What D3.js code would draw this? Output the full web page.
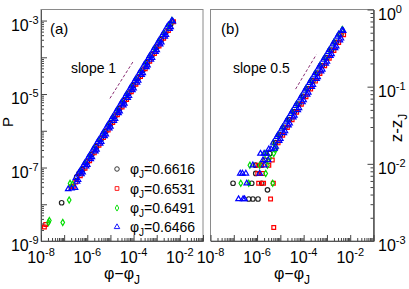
<!DOCTYPE html>
<html>
<head>
<meta charset="utf-8">
<script src="https://cdn.jsdelivr.net/npm/d3@7"></script>
<style>
  body { margin: 0; background: #fff; }
  text { font-family: "Liberation Sans", Arial, sans-serif; fill: #000; }
</style>
</head>
<body>
<svg id="chart"></svg>
<script>
// ---- data ----
var seriesLabels = ["0.6616", "0.6531", "0.6491", "0.6466"];
var xTickExp = ["-8", "-6", "-4", "-2"];
var pTickExp = ["-9", "-7", "-5", "-3"];
var zTickExp = ["-3", "-2", "-1", "0"];

// panel (a): [phi - phiJ, P]
var aBlack = [[7.8e-8, 1.1e-8], [3.5e-7, 5.6e-8], [4.4e-7, 6.9e-8], [6.3e-7, 8.8e-8], [1e-6, 1.42e-7],
  [1.58e-6, 2.29e-7], [2.5e-6, 3.68e-7], [4e-6, 6.0e-7], [6.3e-6, 9.6e-7], [1e-5, 1.56e-6], [1.58e-5, 2.51e-6],
  [2.5e-5, 4.05e-6], [4e-5, 6.6e-6], [6.3e-5, 1.06e-5], [1e-4, 1.71e-5], [1.58e-4, 2.75e-5], [2.5e-4, 4.45e-5],
  [4e-4, 7.24e-5], [6.3e-4, 1.16e-4], [1e-3, 1.88e-4], [1.58e-3, 3.02e-4], [2.5e-3, 4.88e-4], [4e-3, 7.9e-4]];
var aRed = [[1.4e-8, 2.4e-9], [1.6e-8, 2.8e-9], [2.0e-7, 3.0e-8], [2.5e-7, 3.1e-8], [3.2e-7, 4.0e-8],
  [5e-7, 6.0e-8], [8e-7, 9.6e-8], [1.26e-6, 1.53e-7], [2e-6, 2.5e-7], [3.2e-6, 4.05e-7], [5e-6, 6.5e-7],
  [8e-6, 1.05e-6], [1.26e-5, 1.69e-6], [2e-5, 2.74e-6], [3.2e-5, 4.46e-6], [5e-5, 7.1e-6], [8e-5, 1.16e-5],
  [1.26e-4, 1.85e-5], [2e-4, 3.0e-5], [3.2e-4, 4.87e-5], [5e-4, 7.8e-5], [8e-4, 1.27e-4], [1.26e-3, 2.03e-4],
  [2e-3, 3.28e-4], [3.2e-3, 5.35e-4], [5.3e-3, 9.3e-4]];
var aGreen = [[2.1e-8, 3.2e-9], [2.3e-8, 3.6e-9], [8.7e-8, 3.2e-9], [1.65e-7, 1.3e-8], [1.8e-7, 3.7e-8],
  [2.3e-7, 3.5e-8], [5e-7, 8.0e-8], [8e-7, 1.3e-7], [1.26e-6, 2.07e-7], [2e-6, 3.36e-7], [3.2e-6, 5.5e-7],
  [5e-6, 8.7e-7], [8e-6, 1.43e-6], [1.26e-5, 2.29e-6], [2e-5, 3.7e-6], [3.2e-5, 6.0e-6], [5e-5, 9.6e-6],
  [8e-5, 1.56e-5], [1.26e-4, 2.5e-5], [2e-4, 4.05e-5], [3.2e-4, 6.6e-5], [5e-4, 1.05e-4], [8e-4, 1.71e-4],
  [1.26e-3, 2.75e-4], [2e-3, 4.4e-4], [3.2e-3, 7.0e-4], [4.6e-3, 1.0e-3]];
var aBlue = [[1.5e-7, 2.6e-8], [2.1e-7, 2.7e-8], [2.96e-7, 2.8e-8],
  [3.2e-7, 5.2e-8], [4e-7, 4.6e-8], [5e-7, 8.3e-8], [6.3e-7, 7.4e-8], [8e-7, 1.34e-7], [1e-6, 1.19e-7],
  [1.26e-6, 2.14e-7], [1.58e-6, 1.92e-7], [2e-6, 3.47e-7], [2.5e-6, 3.09e-7], [3.2e-6, 5.68e-7], [4e-6, 5.04e-7],
  [5e-6, 9.04e-7], [6.3e-6, 8.06e-7], [8e-6, 1.48e-6], [1e-5, 1.31e-6], [1.26e-5, 2.37e-6], [1.58e-5, 2.11e-6],
  [2e-5, 3.83e-6], [2.5e-5, 3.4e-6], [3.2e-5, 6.25e-6], [4e-5, 5.54e-6], [5e-5, 9.94e-6], [6.3e-5, 8.9e-6],
  [8e-5, 1.62e-5], [1e-4, 1.44e-5], [1.26e-4, 2.59e-5], [1.58e-4, 2.31e-5], [2e-4, 4.19e-5], [2.5e-4, 3.74e-5],
  [3.2e-4, 6.82e-5], [4e-4, 6.08e-5], [5e-4, 1.09e-4], [6.3e-4, 9.74e-5], [8e-4, 1.77e-4], [1e-3, 1.58e-4],
  [1.26e-3, 2.84e-4], [1.58e-3, 2.54e-4], [2e-3, 4.59e-4], [2.5e-3, 4.1e-4], [3.2e-3, 7.5e-4], [4e-3, 6.64e-4],
  [5e-3, 9.5e-4],
  [3.6e-7, 4.12e-8], [4.5e-7, 7.38e-8], [5.6e-7, 6.6e-8], [7.1e-7, 1.19e-7], [8.9e-7, 1.07e-7], [1.12e-6, 1.9e-7],
  [1.41e-6, 1.71e-7], [1.78e-6, 3.08e-7], [2.24e-6, 2.76e-7], [2.8e-6, 4.99e-7], [3.6e-6, 4.49e-7],
  [4.5e-6, 8.03e-7], [5.6e-6, 7.17e-7], [7.1e-6, 1.3e-6], [8.9e-6, 1.17e-6], [1.12e-5, 2.09e-6],
  [1.41e-5, 1.88e-6], [1.78e-5, 3.38e-6], [2.24e-5, 3.03e-6], [2.8e-5, 5.49e-6], [3.6e-5, 4.95e-6],
  [4.5e-5, 8.83e-6], [5.6e-5, 7.9e-6], [7.1e-5, 1.43e-5], [8.9e-5, 1.28e-5], [1.12e-4, 2.3e-5],
  [1.41e-4, 2.06e-5], [1.78e-4, 3.7e-5], [2.24e-4, 3.33e-5], [2.8e-4, 6.01e-5], [3.6e-4, 5.41e-5],
  [4.5e-4, 9.69e-5], [5.6e-4, 8.65e-5], [7.1e-4, 1.56e-4], [8.9e-4, 1.4e-4], [1.12e-3, 2.52e-4],
  [1.41e-3, 2.26e-4], [1.78e-3, 4.06e-4], [2.24e-3, 3.65e-4], [2.8e-3, 6.6e-4], [3.6e-3, 5.92e-4],
  [4.5e-3, 1.0e-3]];

// panel (b): [phi - phiJ, z - zJ]
var bBlack = [[9.3e-8, 0.0056], [5.9e-7, 0.0056], [1.58e-6, 0.0056], [2.8e-6, 0.0046], [4.4e-7, 0.0035],
  [6.6e-7, 0.0035], [1.1e-6, 0.0035], [8.8e-7, 0.0075], [8.5e-7, 0.0096], [1.5e-6, 0.0096], [2.2e-6, 0.0112],
  [3.5e-6, 0.0136], [6.3e-6, 0.0188], [1e-5, 0.0237], [1.58e-5, 0.0298], [2.5e-5, 0.0375], [4e-5, 0.0474],
  [6.3e-5, 0.0595], [1e-4, 0.075], [1.58e-4, 0.0943], [2.5e-4, 0.1186], [4e-4, 0.15], [6.3e-4, 0.188],
  [1e-3, 0.237], [1.58e-3, 0.298], [2.5e-3, 0.375], [4e-3, 0.474]];
var bRed = [[1.07e-6, 0.0075], [1.7e-6, 0.0075], [1.17e-6, 0.0056], [1.9e-6, 0.0056], [5.0e-6, 0.0056],
  [3.8e-6, 0.0035], [5.2e-6, 0.0015], [1.1e-6, 0.0096], [1.6e-6, 0.0096], [3.2e-6, 0.0096], [4.5e-6, 0.0112],
  [8e-6, 0.0187], [1.26e-5, 0.0234], [2e-5, 0.0295], [3.2e-5, 0.0373], [5e-5, 0.0466], [8e-5, 0.059],
  [1.26e-4, 0.0741], [2e-4, 0.0933], [3.2e-4, 0.118], [5e-4, 0.148], [8e-4, 0.187], [1.26e-3, 0.234],
  [2e-3, 0.295], [3.2e-3, 0.373], [5.2e-3, 0.47]];
var bGreen = [[2.0e-7, 0.0056], [4.4e-7, 0.0056], [4.7e-6, 0.0056], [2.35e-6, 0.0075], [4.9e-7, 0.0096],
  [1.3e-6, 0.0096], [2.8e-6, 0.0096], [5.2e-6, 0.0136], [3.5e-6, 0.0118], [2.2e-6, 0.0136], [6.5e-6, 0.0155],
  [5e-6, 0.0188], [8e-6, 0.0237], [1.26e-5, 0.0298], [2e-5, 0.0375], [3.2e-5, 0.0475], [5e-5, 0.0594],
  [8e-5, 0.075], [1.26e-4, 0.0943], [2e-4, 0.119], [3.2e-4, 0.15], [5e-4, 0.188], [8e-4, 0.237],
  [1.26e-3, 0.298], [2e-3, 0.375], [3.2e-3, 0.475], [4.6e-3, 0.55]];
var bBlue = [[1.9e-7, 0.0075], [2.35e-7, 0.0075], [3.3e-7, 0.0075], [1.3e-6, 0.0075], [1.6e-7, 0.0035],
  [2.5e-7, 0.0035], [2.9e-7, 0.0035], [3.6e-7, 0.0056], [6.6e-7, 0.0096], [2.0e-6, 0.0096], [1.4e-6, 0.0136],
  [2.0e-6, 0.0136], [2.6e-6, 0.0136], [1.8e-6, 0.0112], [3.0e-6, 0.0112], [3.2e-6, 0.0155], [4.0e-6, 0.0155],
  [5e-6, 0.0188], [6.3e-6, 0.0167], [8e-6, 0.0237], [1e-5, 0.0211], [1.26e-5, 0.0298], [1.58e-5, 0.0265],
  [2e-5, 0.0375], [2.5e-5, 0.0334], [3.2e-5, 0.0475], [4e-5, 0.0422], [5e-5, 0.0594], [6.3e-5, 0.053],
  [8e-5, 0.075], [1e-4, 0.0668], [1.26e-4, 0.0943], [1.58e-4, 0.0839], [2e-4, 0.119], [2.5e-4, 0.1056],
  [3.2e-4, 0.15], [4e-4, 0.1335], [5e-4, 0.188], [6.3e-4, 0.167], [8e-4, 0.237], [1e-3, 0.211],
  [1.26e-3, 0.298], [1.58e-3, 0.265], [2e-3, 0.375], [2.5e-3, 0.334], [3.2e-3, 0.475], [4e-3, 0.422],
  [5e-3, 0.53],
  [5.6e-6, 0.0158], [7.1e-6, 0.0224], [8.9e-6, 0.0199], [1.12e-5, 0.0281], [1.41e-5, 0.0251], [1.78e-5, 0.0354],
  [2.24e-5, 0.0316], [2.8e-5, 0.0445], [3.6e-5, 0.04], [4.5e-5, 0.0563], [5.6e-5, 0.0499], [7.1e-5, 0.0708],
  [8.9e-5, 0.063], [1.12e-4, 0.0889], [1.41e-4, 0.0792], [1.78e-4, 0.112], [2.24e-4, 0.0997], [2.8e-4, 0.1406],
  [3.6e-4, 0.1266], [4.5e-4, 0.178], [5.6e-4, 0.158], [7.1e-4, 0.224], [8.9e-4, 0.199], [1.12e-3, 0.281],
  [1.41e-3, 0.251], [1.78e-3, 0.354], [2.24e-3, 0.316], [2.8e-3, 0.445], [3.6e-3, 0.4], [4.5e-3, 0.54]];

// dashed guide lines
var slopeOneLine = [[9.5e-6, 7.6e-6], [9.5e-5, 7.6e-5]];
var slopeHalfLine = [[4.5e-5, 0.093], [3.5e-4, 0.26]];

// ---- setup ----
var w = 409, h = 289;
var svg = d3.select("#chart").attr("width", w).attr("height", h);

var top0 = 9.5, bottom0 = 241;
var xA = d3.scaleLog().domain([1e-8, 1e-1]).range([41, 203]);
var yA = d3.scaleLog().domain([1e-9, 2e-3]).range([bottom0, top0]);
var xB = d3.scaleLog().domain([1e-8, 1e-1]).range([210.5, 373.5]);
var yB = d3.scaleLog().domain([1e-3, 1]).range([bottom0, top0]);

var symbols = [
  { type: d3.symbolCircle, size: 16, color: "#222" },
  { type: d3.symbolSquare, size: 14, color: "#ff0000" },
  { type: d3.symbolDiamond, size: 11, color: "#00dd00" },
  { type: d3.symbolTriangle, size: 13, color: "#0000ff" }
];

// powers of ten plus the 2..9 minor steps inside a domain
function majorTicks(scale) {
  var d = scale.domain(), out = [];
  for (var e = Math.ceil(Math.log10(d[0]) - 1e-9); e <= Math.log10(d[1]) + 1e-9; e++) out.push(Math.pow(10, e));
  return out;
}
function minorTicks(scale) {
  var d = scale.domain(), out = [];
  for (var e = Math.floor(Math.log10(d[0])); e <= Math.ceil(Math.log10(d[1])); e++) {
    for (var m = 2; m <= 9; m++) {
      var v = m * Math.pow(10, e);
      if (v > d[0] && v < d[1]) out.push(v);
    }
  }
  return out;
}

function frame(x, y) {
  svg.append("rect")
    .attr("x", x.range()[0]).attr("y", y.range()[1])
    .attr("width", x.range()[1] - x.range()[0])
    .attr("height", y.range()[0] - y.range()[1])
    .attr("fill", "none").attr("stroke", "#8a8a8a").attr("stroke-width", 1);
}

function tickAxis(axisMaker, scale, translate) {
  [[minorTicks(scale), 3], [majorTicks(scale), 6]].forEach(function(t) {
    var g = svg.append("g")
      .attr("transform", translate)
      .call(axisMaker(scale).tickValues(t[0]).tickSize(-t[1]).tickSizeOuter(0).tickFormat(""));
    g.selectAll("line").attr("stroke", "#444");
    g.select(".domain").attr("stroke", "#555");
  });
}

function powLabel(x, y, exp, anchor) {
  var t = svg.append("text")
    .attr("x", x).attr("y", y)
    .attr("text-anchor", anchor)
    .style("font-size", "16px");
  t.append("tspan").text("10");
  t.append("tspan").attr("dy", -7).style("font-size", "11px").text(exp);
}

function drawPoints(data, x, y, sym) {
  svg.append("g").selectAll("path")
    .data(data)
    .enter().append("path")
    .attr("transform", function(d) { return "translate(" + x(d[0]) + "," + y(d[1]) + ")"; })
    .attr("d", d3.symbol().type(sym.type).size(sym.size))
    .attr("fill", "none")
    .attr("stroke", sym.color)
    .attr("stroke-width", 1.2);
}

function phiTitle(cx) {
  var t = svg.append("text")
    .attr("x", cx).attr("y", 279)
    .attr("text-anchor", "middle")
    .style("font-size", "16px");
  t.append("tspan").text("\u03c6\u2212\u03c6");
  t.append("tspan").attr("dy", 5).style("font-size", "12px").text("J");
}

// ---- frames ----
frame(xA, yA);
frame(xB, yB);

// ---- data points ----
[aBlack, aRed, aGreen, aBlue].forEach(function(s, i) { drawPoints(s, xA, yA, symbols[i]); });
[bBlack, bRed, bGreen, bBlue].forEach(function(s, i) { drawPoints(s, xB, yB, symbols[i]); });

// ---- slope guides ----
var guideA = d3.line().x(function(d) { return xA(d[0]); }).y(function(d) { return yA(d[1]); });
var guideB = d3.line().x(function(d) { return xB(d[0]); }).y(function(d) { return yB(d[1]); });
svg.append("path").attr("d", guideA(slopeOneLine))
  .attr("fill", "none").attr("stroke", "#8a2f74").attr("stroke-width", 1).attr("stroke-dasharray", "3,2");
svg.append("path").attr("d", guideB(slopeHalfLine))
  .attr("fill", "none").attr("stroke", "#8a2f74").attr("stroke-width", 1).attr("stroke-dasharray", "3,2");

// ---- axes (ticks pointing inward) ----
tickAxis(d3.axisLeft, yA, "translate(" + xA.range()[0] + ",0)");
tickAxis(d3.axisBottom, xA, "translate(0," + bottom0 + ")");
tickAxis(d3.axisRight, yB, "translate(" + xB.range()[1] + ",0)");
tickAxis(d3.axisBottom, xB, "translate(0," + bottom0 + ")");

// tick labels
xTickExp.forEach(function(e) {
  powLabel(xA(Math.pow(10, +e)), 263, e, "middle");
  powLabel(xB(Math.pow(10, +e)), 263, e, "middle");
});
pTickExp.forEach(function(e) { powLabel(38.5, yA(Math.pow(10, +e)) + 10, e, "end"); });
zTickExp.forEach(function(e) { powLabel(378, yB(Math.pow(10, +e)) + 10, e, "start"); });

// axis titles
phiTitle((xA.range()[0] + xA.range()[1]) / 2);
phiTitle((xB.range()[0] + xB.range()[1]) / 2);

svg.append("text")
  .attr("transform", "translate(13,122) rotate(-90)")
  .attr("text-anchor", "middle")
  .style("font-size", "15px")
  .text("P");

var zt = svg.append("text")
  .attr("transform", "translate(402,128) rotate(-90)")
  .attr("text-anchor", "middle")
  .style("font-size", "17px");
zt.append("tspan").text("z-z");
zt.append("tspan").attr("dy", 5).style("font-size", "12px").text("J");

// panel tags and slope notes
svg.append("text").attr("x", 50).attr("y", 34).style("font-size", "15px").text("(a)");
svg.append("text").attr("x", 221).attr("y", 34).style("font-size", "15px").text("(b)");
svg.append("text").attr("x", 71).attr("y", 73).style("font-size", "14px").text("slope 1");
svg.append("text").attr("x", 233).attr("y", 73).style("font-size", "14px").text("slope 0.5");

// ---- legend ----
var legendY = [169, 188.5, 208, 227];
seriesLabels.forEach(function(lab, i) {
  svg.append("path")
    .attr("transform", "translate(117," + legendY[i] + ")")
    .attr("d", d3.symbol().type(symbols[i].type).size(symbols[i].size))
    .attr("fill", "none").attr("stroke", symbols[i].color).attr("stroke-width", 0.9);
  var t = svg.append("text")
    .attr("x", 130).attr("y", legendY[i] + 5)
    .style("font-size", "14px");
  t.append("tspan").text("\u03c6");
  t.append("tspan").attr("dy", 4).style("font-size", "10px").text("J");
  t.append("tspan").attr("dy", -4).text("=" + lab);
});
</script>
</body>
</html>
